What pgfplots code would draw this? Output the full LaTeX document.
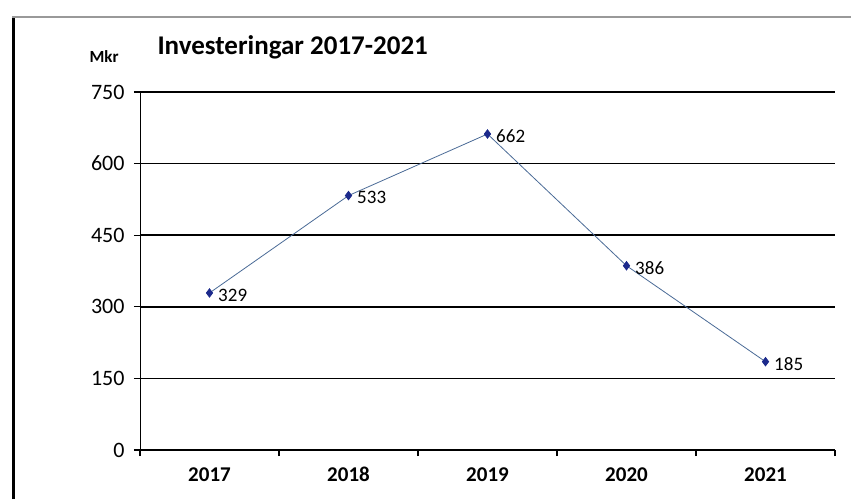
\documentclass[border=0pt]{standalone}
\usepackage{fontspec}
\setmainfont{Carlito}
\usepackage{pgfplots}
\pgfplotsset{compat=1.18}
\definecolor{linec}{HTML}{4A6A96}
\definecolor{markc}{HTML}{1C2A8C}
\begin{document}
\begin{tikzpicture}[x=1pt,y=1pt]
\useasboundingbox (0,0) rectangle (851,499);
\draw[line width=3pt,black] (13,0) -- (13,482);
\draw[line width=1.5pt,gray!80] (12,482) -- (851,482);
\begin{axis}[
  at={(140pt,49pt)}, anchor=origin,
  scale only axis, width=695pt, height=358pt,
  xmin=0, xmax=5, ymin=0, ymax=750,
  xtick={0,1,2,3,4,5}, xticklabels={},
  extra x ticks={0.5,1.5,2.5,3.5,4.5},
  extra x tick labels={2017,2018,2019,2020,2021},
  extra x tick style={major tick length=0pt, tick label style={font=\fontsize{21}{24}\selectfont\bfseries, text height=14pt, text depth=0pt, yshift=-14pt}},
  ytick={0,150,300,450,600,750},
  ymajorgrids, grid style={black, line width=1.6pt},
  axis x line*=bottom, axis y line*=left,
  axis line style={black, line width=1pt},
  x axis line style={-}, y axis line style={-},
  tick style={black, line width=1.2pt},
  major tick length=6pt,
  tick align=outside,
  xtick pos=bottom, ytick pos=left,
  yticklabel style={font=\fontsize{22}{24}\selectfont, xshift=-6pt},
  /pgf/number format/assume math mode=true,
  clip=false,
]
\addplot[color=linec, line width=0.8pt, mark=diamond*, mark size=4.2pt,
  mark options={fill=markc, draw=markc},
  nodes near coords, point meta=explicit symbolic,
  every node near coord/.append style={anchor=west, xshift=5pt, yshift=-2pt, font=\fontsize{19}{22}\selectfont, text=black}]
  table[meta=l] {
x y l
0.5 329 329
1.5 533 533
2.5 662 662
3.5 386 386
4.5 185 185
};
\end{axis}
\node[anchor=base west, font=\fontsize{17}{20}\selectfont\bfseries] at (86,436) {Mkr};
\node[anchor=base west, font=\fontsize{27}{30}\selectfont\bfseries] at (154,444) {Investeringar 2017-2021};
\end{tikzpicture}
\end{document}
